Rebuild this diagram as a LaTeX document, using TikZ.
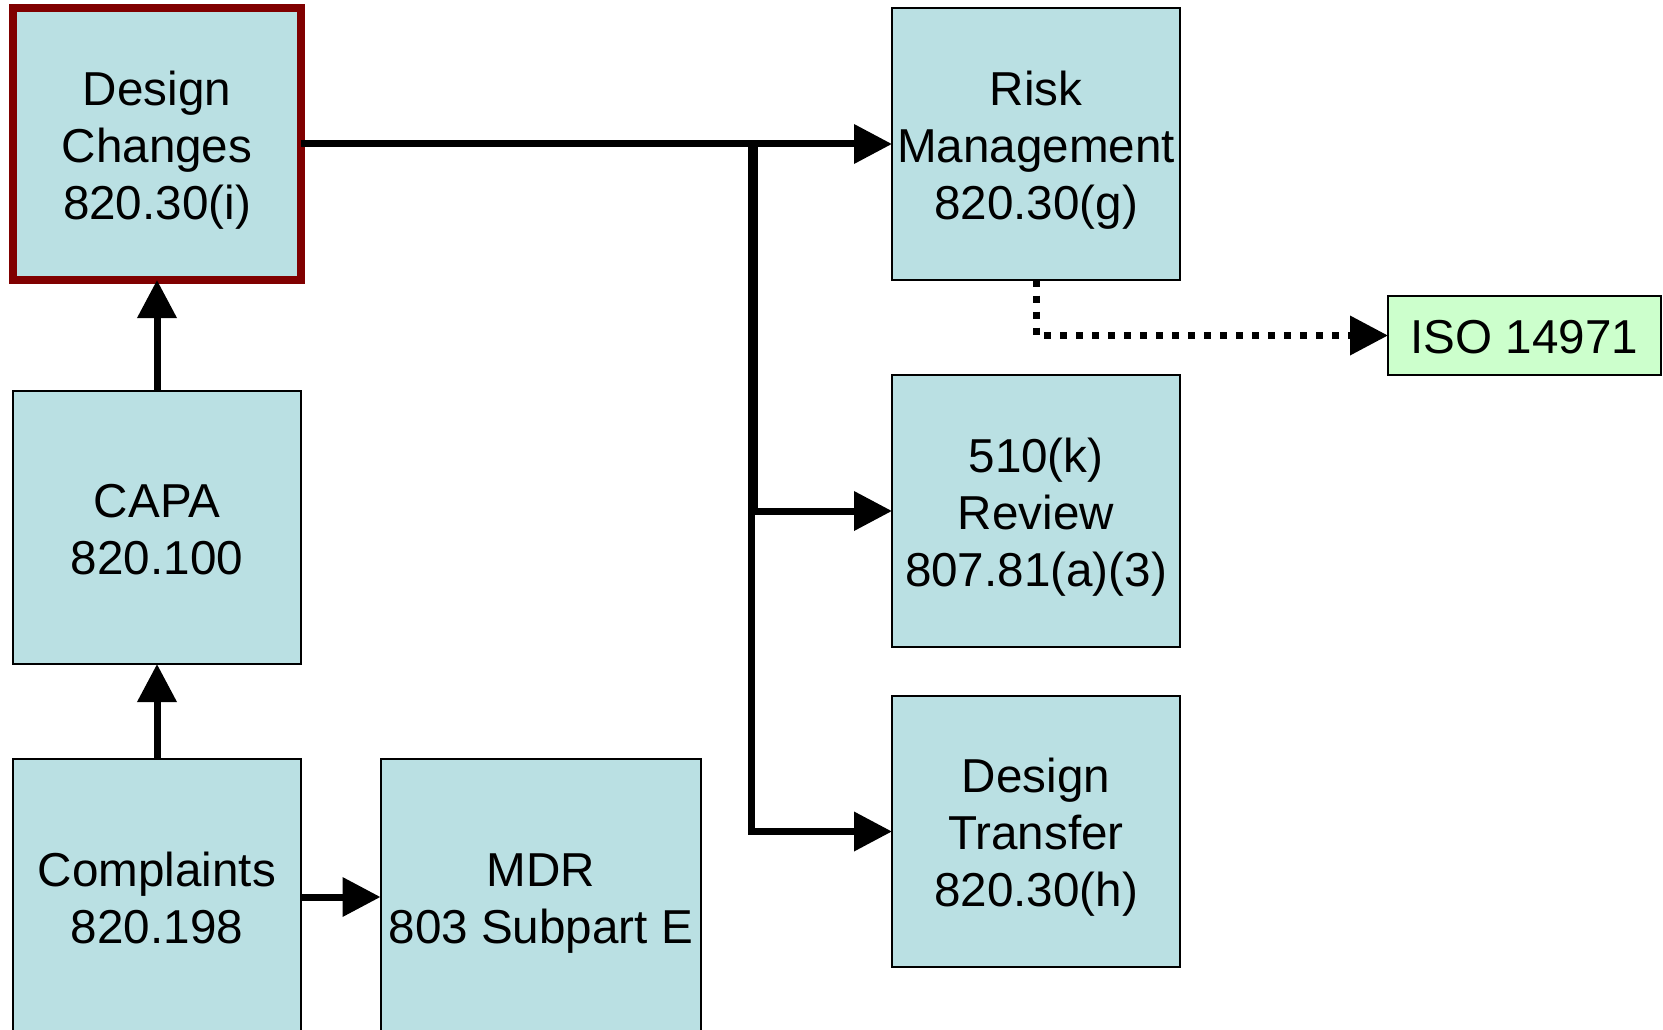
\documentclass[tikz,border=0pt]{standalone}
\usepackage{fontspec}
\setmainfont{Liberation Sans}
\usetikzlibrary{arrows.meta}
\definecolor{boxblue}{HTML}{BAE0E3}
\definecolor{boxgreen}{HTML}{CCFFCC}
\definecolor{darkred}{HTML}{800000}
\newcommand{\bs}{\vrule height 46.5pt depth 10.5pt width 0pt\relax}
\tikzset{
  box/.style={draw=black, line width=2pt, fill=boxblue, inner sep=0pt, outer sep=0pt,
    align=center, font=\fontsize{47.6}{57}\selectfont},
  hlbox/.style={box, draw=darkred, line width=8pt},
  isobox/.style={box, fill=boxgreen},
  arr/.style={line width=7pt, line join=miter, -{Triangle[length=38pt,width=38pt]}},
  dotarr/.style={arr, dash pattern=on 7pt off 9pt}
}
\begin{document}
\begin{tikzpicture}[x=1pt,y=-1pt]
\useasboundingbox (0,0) rectangle (1663,1030);
\clip (0,0) rectangle (1663,1030);
\fill[white] (0,0) rectangle (1663,1030);
\node[hlbox, minimum width=288pt, minimum height=272pt] (dc) at (157,144) {\bs Design\\\bs Changes\\\bs 820.30(i)};
\node[box, minimum width=288pt, minimum height=273pt] (capa) at (157,527.5) {\bs CAPA\\\bs 820.100};
\node[box, minimum width=288pt, minimum height=276pt] (comp) at (157,897) {\bs Complaints\\\bs 820.198};
\node[box, minimum width=320.5pt, minimum height=276pt] (mdr) at (540.75,897) {\bs MDR\\\bs 803 Subpart E};
\node[box, minimum width=288pt, minimum height=271pt] (rk) at (1036,144) {\bs Risk\\\bs Management\\\bs 820.30(g)};
\node[box, minimum width=288pt, minimum height=272pt] (k) at (1036,511) {\bs 510(k)\\\bs Review\\\bs 807.81(a)(3)};
\node[box, minimum width=288pt, minimum height=271pt] (dt) at (1036,831.5) {\bs Design\\\bs Transfer\\\bs 820.30(h)};
\node[isobox, minimum width=273pt, minimum height=79pt] (iso) at (1524.5,335.5) {\bs ISO 14971};
\coordinate (j1) at (751.5,144);
\coordinate (j2) at (754.5,144);
\draw[arr] (dc.east) -- (rk.west);
\draw[arr] (dc.east) -- (j2) |- (k.west);
\draw[arr] (dc.east) -- (j1) |- (dt.west);
\draw[arr] (capa.north) -- (dc.south);
\draw[arr] (comp.north) -- (capa.south);
\draw[arr] (comp.east) -- (mdr.west);
\draw[dotarr] (rk.south) |- (iso.west);
\end{tikzpicture}
\end{document}
